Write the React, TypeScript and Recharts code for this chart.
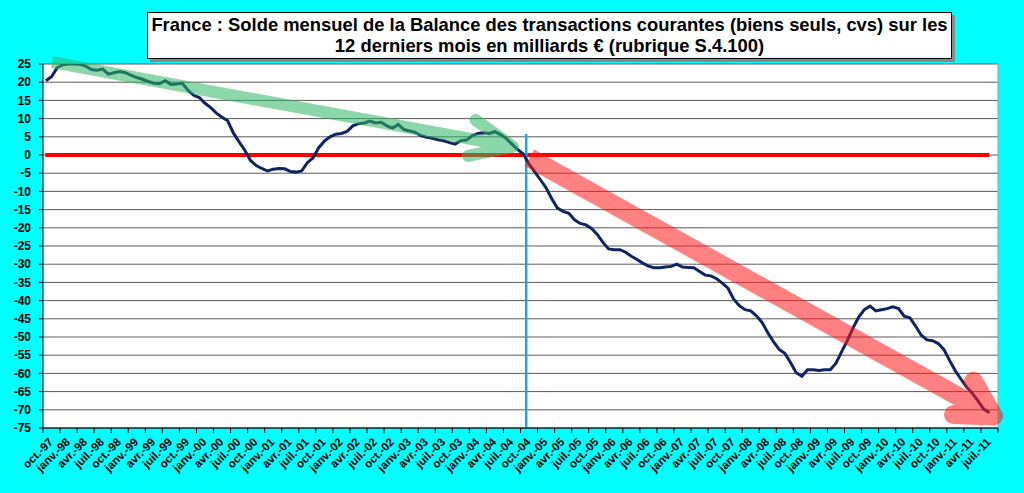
import React from 'react';
import { ComposedChart, Line, XAxis, YAxis, CartesianGrid, ReferenceLine } from 'recharts';

const TITLE_LINE_1 = 'France : Solde mensuel de la Balance des transactions courantes (biens seuls, cvs) sur les';
const TITLE_LINE_2 = '12 derniers mois en milliards € (rubrique S.4.100)';

// Quarterly tick labels (one tick every 3 months, starting oct.-97)
const quarterLabels = [
  'oct.-97',
  'janv.-98', 'avr.-98', 'juil.-98', 'oct.-98',
  'janv.-99', 'avr.-99', 'juil.-99', 'oct.-99',
  'janv.-00', 'avr.-00', 'juil.-00', 'oct.-00',
  'janv.-01', 'avr.-01', 'juil.-01', 'oct.-01',
  'janv.-02', 'avr.-02', 'juil.-02', 'oct.-02',
  'janv.-03', 'avr.-03', 'juil.-03', 'oct.-03',
  'janv.-04', 'avr.-04', 'juil.-04', 'oct.-04',
  'janv.-05', 'avr.-05', 'juil.-05', 'oct.-05',
  'janv.-06', 'avr.-06', 'juil.-06', 'oct.-06',
  'janv.-07', 'avr.-07', 'juil.-07', 'oct.-07',
  'janv.-08', 'avr.-08', 'juil.-08', 'oct.-08',
  'janv.-09', 'avr.-09', 'juil.-09', 'oct.-09',
  'janv.-10', 'avr.-10', 'juil.-10', 'oct.-10',
  'janv.-11', 'avr.-11', 'juil.-11',
];

// Monthly 12-month rolling balance, bn € (oct.-97 .. aug.-11)
const balance = [
  20.4, 21.5, 24.0, 24.8, 25.0, 25.0, 24.9, 24.4, 23.5, 23.3,
  23.6, 22.2, 22.6, 22.9, 22.6, 21.9, 21.3, 20.8, 20.2, 19.7,
  19.6, 20.4, 19.4, 19.5, 19.7, 17.8, 16.4, 15.8, 14.2, 13.0,
  11.5, 10.4, 9.4, 6.0, 3.6, 1.3, -1.5, -2.9, -3.7, -4.4,
  -3.9, -3.7, -3.8, -4.5, -4.7, -4.4, -2.1, -0.8, 2.0, 3.8,
  5.0, 5.7, 5.9, 6.5, 8.0, 8.6, 8.8, 9.3, 8.8, 9.0,
  8.0, 7.4, 8.4, 7.0, 6.6, 6.2, 5.3, 4.9, 4.6, 4.2,
  3.9, 3.4, 3.0, 3.9, 4.1, 5.3, 5.9, 6.1, 5.9, 6.4,
  5.6, 4.5, 3.0, 1.5, 0.3, -2.5, -4.6, -6.8, -9.0, -12.0,
  -14.6, -15.5, -16.0, -17.8, -18.8, -19.2, -20.2, -21.8, -24.0, -25.8,
  -26.0, -26.0, -26.7, -27.8, -28.7, -29.7, -30.5, -31.0, -31.0, -30.8,
  -30.6, -30.0, -30.8, -30.9, -31.0, -32.0, -33.0, -33.2, -34.0, -35.2,
  -36.6, -39.6, -41.4, -42.5, -42.8, -44.2, -46.0, -48.8, -51.3, -53.4,
  -54.5, -57.0, -59.8, -60.8, -59.0, -59.0, -59.2, -59.0, -59.0, -57.2,
  -54.0, -51.0, -47.5, -44.5, -42.5, -41.5, -42.8, -42.5, -42.2, -41.7,
  -42.2, -44.3, -44.7, -47.0, -49.5, -50.8, -51.0, -51.8, -53.5, -56.5,
  -59.3, -61.6, -63.8, -65.5, -67.6, -69.8, -70.8,
];

const yTicks = [-75, -70, -65, -60, -55, -50, -45, -40, -35, -30, -25, -20, -15, -10, -5, 0, 5, 10, 15, 20, 25];

const MONTHS_ON_AXIS = 168;

const data = balance.map((v, i) => ({ t: i + 0.5, v }));
const xTicks = [...quarterLabels.map((_, k) => k * 3), MONTHS_ON_AXIS];

// Annotation arrows (data coordinates)
const greenArrow = [{ x: 1.6, y: 25.5 }, { x: 82.7, y: 2.3 }];
const redArrow = [{ x: 85.6, y: -0.8 }, { x: 167.2, y: -71.7 }];
const zeroLine = [{ x: 0.4, y: 0 }, { x: 166.5, y: 0 }];
const breakLine = [{ x: 85, y: -75 }, { x: 85, y: 5.8 }];

const FONT = '"Liberation Sans", Arial, Helvetica, sans-serif';

const makeArrowShape = (color: string, width: number, armLen: number, upDeg: number, lowDeg: number) => (props: any) => {
  const { x1, y1, x2, y2 } = props;
  const back = Math.atan2(y1 - y2, x1 - x2);
  const a1 = back + (upDeg * Math.PI) / 180;
  const a2 = back - (lowDeg * Math.PI) / 180;
  const ax1 = x2 + armLen * Math.cos(a1);
  const ay1 = y2 + armLen * Math.sin(a1);
  const ax2 = x2 + armLen * Math.cos(a2);
  const ay2 = y2 + armLen * Math.sin(a2);
  return (
    <g opacity={0.55}>
      <path d={`M${x1},${y1}L${x2},${y2}`} stroke={color} strokeWidth={width} fill="none" strokeLinecap="butt" />
      <path
        d={`M${ax1},${ay1}L${x2},${y2}L${ax2},${ay2}`}
        stroke={color}
        strokeWidth={width}
        fill="none"
        strokeLinecap="round"
        strokeLinejoin="round"
      />
    </g>
  );
};

const greenShape = makeArrowShape('#2fb866', 12, 46, 25, 22);
const redShape = makeArrowShape('#ff1a1a', 19, 40, 31, 27);

const XTick = (props: any) => {
  const { x, y, payload } = props;
  const label = quarterLabels[Math.round(payload.value / 3)];
  if (payload.value >= MONTHS_ON_AXIS || !label) return null;
  const ax = x + 5;
  const ay = y + 2;
  return (
    <text
      x={ax}
      y={ay}
      transform={`rotate(-45 ${ax} ${ay})`}
      textAnchor="end"
      dy="0.7em"
      fontSize={11.5}
      fontWeight="bold"
      fontFamily={FONT}
      fill="#000"
    >
      {label}
    </text>
  );
};

export default function App() {
  return (
    <div
      style={{
        position: 'absolute',
        left: 0,
        top: 0,
        width: 1024,
        height: 493,
        background: '#00ffff',
        fontFamily: FONT,
        overflow: 'hidden',
      }}
    >
      <ComposedChart width={1024} height={493} data={data} margin={{ top: 64, right: 26, left: 0, bottom: 0 }}>
        <CartesianGrid horizontal vertical={false} stroke="#5a5a5a" fill="#ffffff" fillOpacity={1} />
        <XAxis
          type="number"
          dataKey="t"
          domain={[0, MONTHS_ON_AXIS]}
          ticks={xTicks}
          interval={0}
          height={65}
          tick={<XTick />}
          tickSize={5}
          tickMargin={2}
          axisLine={{ stroke: '#000' }}
          tickLine={{ stroke: '#000' }}
          allowDataOverflow
        />
        <YAxis
          type="number"
          domain={[-75, 25]}
          ticks={yTicks}
          interval={0}
          width={43}
          tickSize={4}
          tickMargin={8}
          axisLine={{ stroke: '#000' }}
          tickLine={{ stroke: '#000' }}
          tick={{ fill: '#000', fontSize: 12, fontWeight: 'bold', fontFamily: FONT }}
          allowDataOverflow
        />
        <ReferenceLine x={MONTHS_ON_AXIS} stroke="#a0a0a0" />
        <ReferenceLine segment={zeroLine} stroke="#ff0000" strokeWidth={4} ifOverflow="visible" />
        <ReferenceLine segment={breakLine} stroke="#1aa6ea" strokeWidth={2.5} ifOverflow="visible" />
        <Line
          type="linear"
          dataKey="v"
          stroke="#0f2460"
          strokeWidth={3}
          dot={false}
          activeDot={false}
          isAnimationActive={false}
        />
        <ReferenceLine segment={greenArrow} stroke="#2fb866" ifOverflow="visible" shape={greenShape} />
        <ReferenceLine segment={redArrow} stroke="#ff1a1a" ifOverflow="visible" shape={redShape} />
      </ComposedChart>
      <div
        style={{
          position: 'absolute',
          left: 147,
          top: 12,
          width: 803,
          height: 44,
          background: '#fff',
          border: '1px solid #000',
          boxShadow: '3px 3px 0 #8a8a8a',
          textAlign: 'center',
          fontWeight: 'bold',
          fontSize: 18.4,
          lineHeight: '21px',
          paddingTop: 1,
          color: '#000',
          whiteSpace: 'nowrap',
        }}
      >
        <div>{TITLE_LINE_1}</div>
        <div>{TITLE_LINE_2}</div>
      </div>
    </div>
  );
}
